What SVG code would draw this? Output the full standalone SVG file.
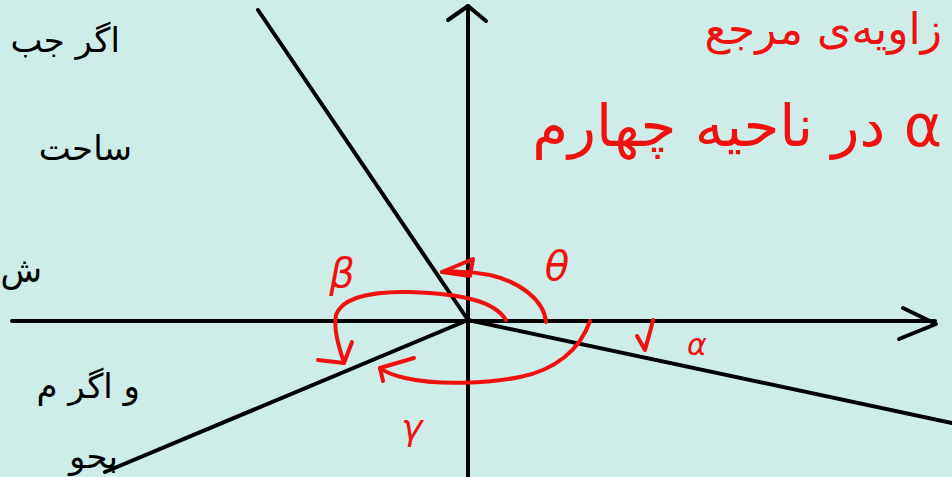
<svg xmlns="http://www.w3.org/2000/svg" width="952" height="477" viewBox="0 0 952 477">
<style>
.k{fill:none;stroke:#000;stroke-width:4;stroke-linecap:round;stroke-linejoin:round}
.r{fill:none;stroke:#f01010;stroke-width:4;stroke-linecap:round;stroke-linejoin:round}
.tk{font-family:"DejaVu Sans",sans-serif;fill:#000;font-size:34px}
.tr{font-family:"DejaVu Sans",sans-serif;fill:#f01010}
.g{font-family:"DejaVu Sans",sans-serif;fill:#f01010;font-style:italic}
</style>
<rect width="952" height="477" fill="#cfede8"/>
<g id="axes">
<path class="k" d="M12 321 H935"/>
<path class="k" d="M903 308 L936 324 L899 339"/>
<path class="k" d="M468 477 V6"/>
<path class="k" d="M448 20 L468 6 L486 21"/>
</g>
<g id="rays">
<path class="k" d="M258 10 L468 320"/>
<path class="k" d="M468 320 L105 472"/>
<path class="k" d="M468 320 L952 423"/>
</g>
<g id="arcs">
<path class="r" d="M546 322 C544 300 520 282 490 275 C470 271 455 271 442 272"/>
<path class="r" d="M442 272 L473 259 L470 276 Z" fill="#f01010"/>
<path class="r" d="M506 320 C495 302 465 294 410 292 C370 291 342 298 336 315 C333 330 340 350 344 363"/>
<path class="r" d="M318 360 L344 363 L352 342"/>
<path class="r" d="M590 321 C580 350 555 370 520 377 C490 383 440 386 405 378 C392 375 385 372 380 368"/>
<path class="r" d="M414 358 L380 368 L383 381"/>
<path class="r" d="M653 320 C650 333 647 342 645 350 L637 336"/>
</g>
<g id="labels">
<text class="g" x="557" y="280" font-size="40" text-anchor="middle">θ</text>
<text class="g" x="342" y="287" font-size="40" text-anchor="middle">β</text>
<text class="g" x="412" y="440" font-size="36" text-anchor="middle">γ</text>
<text class="g" x="697" y="355" font-size="30" text-anchor="middle">α</text>
<text class="tr" x="942" y="146" font-size="58" text-anchor="start" direction="rtl">α در ناحیه چهارم</text>
<text class="tr" x="942" y="44" font-size="44" text-anchor="start" direction="rtl">زاویه‌ی مرجع</text>
</g>
<g id="notes">
<text class="tk" x="120" y="52" text-anchor="start" direction="rtl">اگر جب</text>
<text class="tk" x="132" y="160" text-anchor="start" direction="rtl">ساحت</text>
<text class="tk" x="42" y="282" text-anchor="start" direction="rtl">ش</text>
<text class="tk" x="140" y="398" text-anchor="start" direction="rtl">و اگر م</text>
<text class="tk" x="118" y="468" text-anchor="start" direction="rtl">بحو</text>
</g>
</svg>
